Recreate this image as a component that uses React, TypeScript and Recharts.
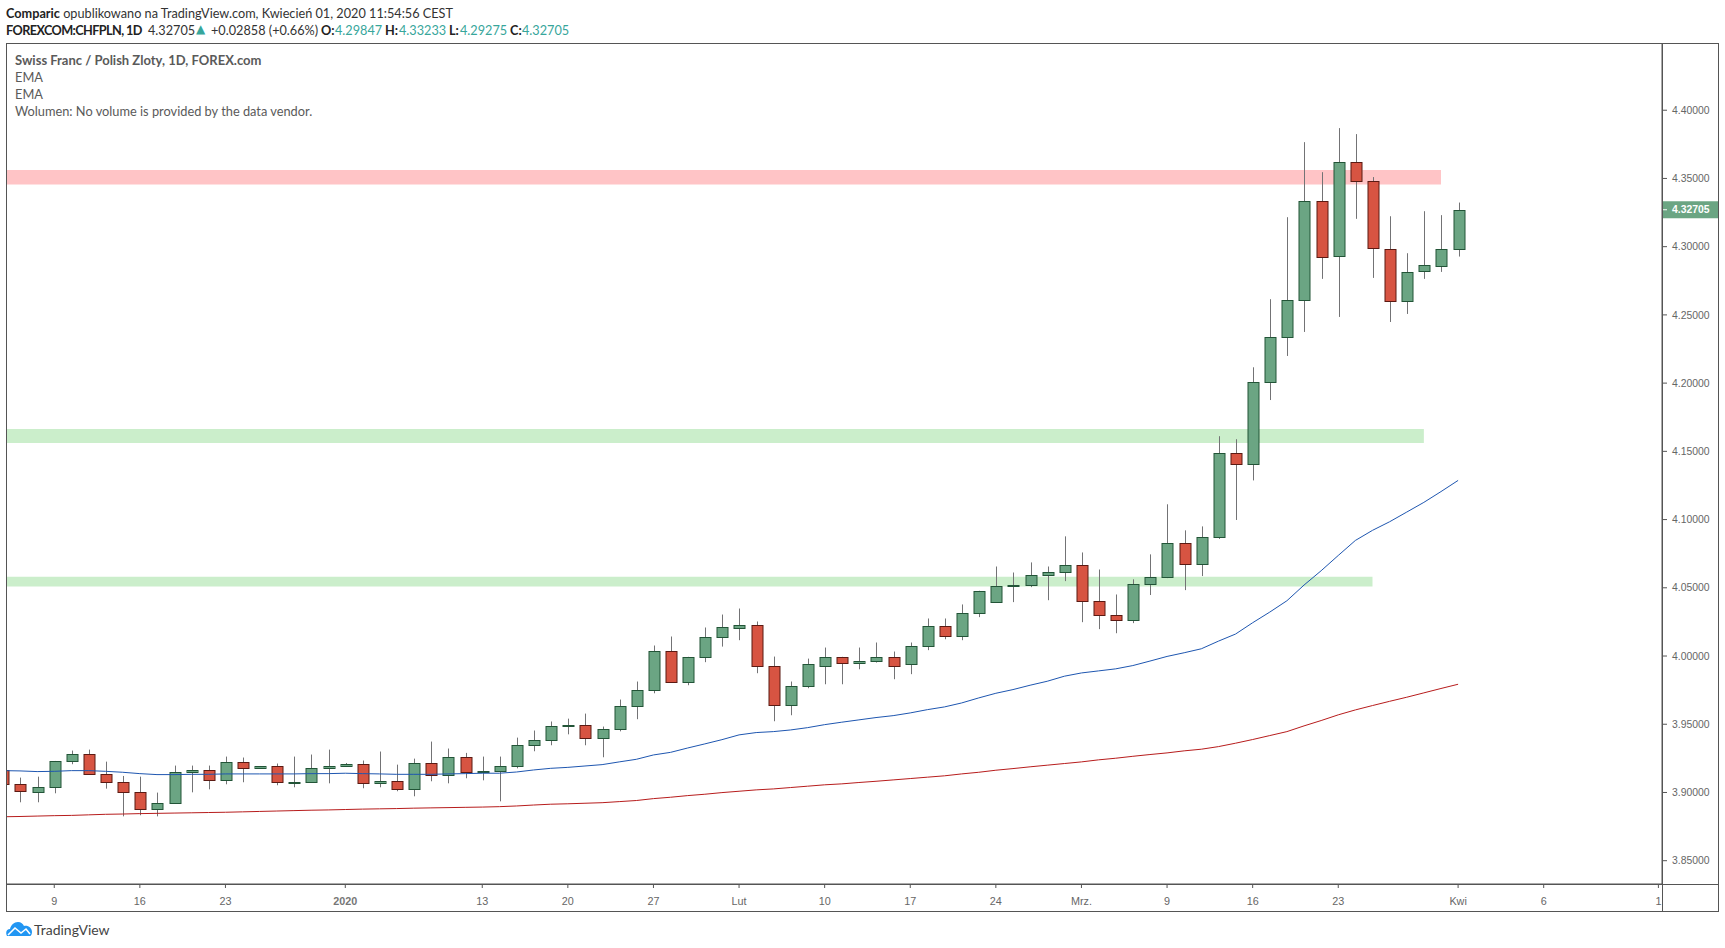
import { Bar, ComposedChart, Line, ReferenceArea, XAxis, YAxis } from 'recharts';

const dates = [
  '2019-12-04', '2019-12-05', '2019-12-06',
  '2019-12-09', '2019-12-10', '2019-12-11', '2019-12-12', '2019-12-13',
  '2019-12-16', '2019-12-17', '2019-12-18', '2019-12-19', '2019-12-20',
  '2019-12-23', '2019-12-24', '2019-12-25', '2019-12-26', '2019-12-27',
  '2019-12-30', '2019-12-31', '2020-01-01', '2020-01-02', '2020-01-03',
  '2020-01-06', '2020-01-07', '2020-01-08', '2020-01-09', '2020-01-10',
  '2020-01-13', '2020-01-14', '2020-01-15', '2020-01-16', '2020-01-17',
  '2020-01-20', '2020-01-21', '2020-01-22', '2020-01-23', '2020-01-24',
  '2020-01-27', '2020-01-28', '2020-01-29', '2020-01-30', '2020-01-31',
  '2020-02-03', '2020-02-04', '2020-02-05', '2020-02-06', '2020-02-07',
  '2020-02-10', '2020-02-11', '2020-02-12', '2020-02-13', '2020-02-14',
  '2020-02-17', '2020-02-18', '2020-02-19', '2020-02-20', '2020-02-21',
  '2020-02-24', '2020-02-25', '2020-02-26', '2020-02-27', '2020-02-28',
  '2020-03-02', '2020-03-03', '2020-03-04', '2020-03-05', '2020-03-06',
  '2020-03-09', '2020-03-10', '2020-03-11', '2020-03-12', '2020-03-13',
  '2020-03-16', '2020-03-17', '2020-03-18', '2020-03-19', '2020-03-20',
  '2020-03-23', '2020-03-24', '2020-03-25', '2020-03-26', '2020-03-27',
  '2020-03-30', '2020-03-31', '2020-04-01',
];

const opens = [
  3.9165, 3.9062, 3.9009,
  3.9038, 3.9229, 3.9283, 3.9136, 3.9077,
  3.9004, 3.8879, 3.8923, 3.9148, 3.9165,
  3.9092, 3.9224, 3.918, 3.9194, 3.9077,
  3.9077, 3.918, 3.9194, 3.9209, 3.907,
  3.9084, 3.9026, 3.9216, 3.9128, 3.926,
  3.9148, 3.9158, 3.9194, 3.9349, 3.9385,
  3.9488, 3.9495, 3.94, 3.9466, 3.9634,
  3.9752, 4.0038, 3.981, 3.9994, 4.014,
  4.0204, 4.0228, 3.9928, 3.9642, 3.9781,
  3.9928, 3.9994, 3.995, 3.9964, 3.9994,
  3.9942, 4.0074, 4.0221, 4.0148, 4.0316,
  4.0397, 4.0512, 4.0522, 4.0595, 4.0617,
  4.0669, 4.0404, 4.0302, 4.0265, 4.053,
  4.0581, 4.0831, 4.0677, 4.0875, 4.1491,
  4.141, 4.2011, 4.2341, 4.2612, 4.3338,
  4.2928, 4.3617, 4.3478, 4.2986, 4.2605,
  4.2818, 4.2862, 4.29847,
];

const highs = [
  3.9185, 3.9109, 3.9116,
  3.9231, 3.9307, 3.9314, 3.9226, 3.9121,
  3.9116, 3.8999, 3.9197, 3.9197, 3.9197,
  3.9263, 3.9256, 3.9194, 3.9212, 3.9263,
  3.9278, 3.9314, 3.9216, 3.9234, 3.93,
  3.9204, 3.9248, 3.9373, 3.9322, 3.929,
  3.9263, 3.9263, 3.9402, 3.9454, 3.952,
  3.9541, 3.9578, 3.9483, 3.9681, 3.9813,
  4.0077, 4.0143, 3.9994, 4.0209, 4.0304,
  4.0348, 4.0253, 3.9996, 3.9813, 3.9981,
  4.0062, 3.9994, 4.0062, 4.0099, 4.0033,
  4.0099, 4.0275, 4.0275, 4.0378, 4.0478,
  4.0656, 4.0612, 4.0686, 4.0656, 4.0877,
  4.0759, 4.0634, 4.0451, 4.0562, 4.0745,
  4.1112, 4.0921, 4.095, 4.1611, 4.1589,
  4.2116, 4.2615, 4.3216, 4.3766, 4.3546,
  4.3869, 4.3825, 4.351, 4.3223, 4.2952,
  4.326, 4.3231, 4.33233,
];

const lows = [
  3.904, 3.8928, 3.8928,
  3.8994, 3.9207, 3.9128, 3.9028, 3.8825,
  3.8833, 3.8825, 3.8923, 3.9001, 3.9023,
  3.906, 3.9075, 3.918, 3.9053, 3.9038,
  3.9077, 3.9067, 3.9194, 3.9031, 3.9038,
  3.9009, 3.8972, 3.9082, 3.9067, 3.9104,
  3.9089, 3.8935, 3.9177, 3.9302, 3.9346,
  3.9426, 3.9346, 3.9258, 3.9448, 3.9537,
  3.9727, 3.981, 3.9786, 3.9955, 4.0069,
  4.0116, 3.9874, 3.9522, 3.9566, 3.9764,
  3.9793, 3.9793, 3.9903, 3.9952, 3.983,
  3.9867, 4.0043, 4.0123, 4.0116, 4.0285,
  4.0397, 4.0395, 4.0505, 4.0409, 4.0549,
  4.0248, 4.0197, 4.0167, 4.0241, 4.0447,
  4.0571, 4.0483, 4.0586, 4.0858, 4.0997,
  4.1287, 4.1876, 4.2199, 4.2375, 4.2764,
  4.2485, 4.3204, 4.2771, 4.2448, 4.2507,
  4.2764, 4.2815, 4.29275,
];

const closes = [
  3.9062, 3.9009, 3.9043,
  3.9231, 3.9283, 3.9136, 3.9075, 3.9004,
  3.8879, 3.8923, 3.915, 3.9165, 3.9092,
  3.9224, 3.918, 3.9194, 3.9077, 3.9079,
  3.918, 3.9194, 3.9209, 3.907, 3.9084,
  3.9026, 3.9216, 3.9128, 3.926, 3.9148,
  3.9155, 3.9194, 3.9349, 3.9385, 3.9488,
  3.9495, 3.94, 3.9466, 3.9634, 3.9752,
  4.0038, 3.981, 3.9994, 4.014, 4.0214,
  4.0228, 3.9928, 3.9642, 3.9781, 3.9942,
  3.9994, 3.995, 3.9964, 3.9994, 3.9928,
  4.0074, 4.0221, 4.0148, 4.0316, 4.0478,
  4.0515, 4.0522, 4.0595, 4.0617, 4.0669,
  4.0404, 4.0302, 4.0265, 4.053, 4.0581,
  4.0831, 4.0677, 4.0875, 4.1491, 4.141,
  4.2011, 4.2341, 4.2612, 4.3338, 4.2928,
  4.3617, 4.3478, 4.2986, 4.2605, 4.2818,
  4.2862, 4.2986, 4.32705,
];

const emaBlue = [
  3.916, 3.9158, 3.9153,
  3.9155, 3.916, 3.916, 3.9155, 3.9148,
  3.9138, 3.9131, 3.9131, 3.9133, 3.9133,
  3.9136, 3.9136, 3.9136, 3.9136, 3.9136,
  3.9138, 3.9138, 3.9141, 3.9138, 3.9136,
  3.9133, 3.9133, 3.9133, 3.9136, 3.9138,
  3.9141, 3.9141, 3.915, 3.9165, 3.9177,
  3.9184, 3.9194, 3.9204, 3.9224, 3.9243,
  3.9275, 3.9294, 3.9326, 3.9356, 3.9387,
  3.9422, 3.9439, 3.9446, 3.9458, 3.9475,
  3.9497, 3.9515, 3.9532, 3.9549, 3.9563,
  3.9583, 3.9607, 3.9627, 3.9656, 3.9693,
  3.9727, 3.9754, 3.9786, 3.9815, 3.9852,
  3.9876, 3.9891, 3.9906, 3.993, 3.9963,
  3.9997, 4.0024, 4.0053, 4.0109, 4.0161,
  4.0244, 4.0322, 4.0405, 4.052, 4.0625,
  4.0737, 4.0847, 4.0921, 4.0984, 4.1055,
  4.1126, 4.1205, 4.1287,
];

const emaRed = [
  3.8822, 3.8824, 3.8827,
  3.883, 3.8832, 3.8836, 3.884, 3.8842,
  3.8845, 3.8847, 3.8849, 3.8851, 3.8853,
  3.8855, 3.8858, 3.8861, 3.8864, 3.8867,
  3.887, 3.8872, 3.8875, 3.8878, 3.888,
  3.8882, 3.8885, 3.8887, 3.8889, 3.8891,
  3.8893, 3.8896, 3.8901, 3.8908, 3.8914,
  3.8917, 3.8921, 3.8925, 3.8933, 3.8941,
  3.8955, 3.8965, 3.8977, 3.8987, 3.8999,
  3.9009, 3.9019, 3.9026, 3.9036, 3.9046,
  3.9056, 3.9063, 3.9073, 3.9082, 3.9092,
  3.9102, 3.9112, 3.9122, 3.9136, 3.9148,
  3.9163, 3.9175, 3.9188, 3.92, 3.9212,
  3.9224, 3.9239, 3.9251, 3.9265, 3.9278,
  3.929, 3.9305, 3.9317, 3.9336, 3.9361,
  3.9388, 3.9417, 3.9446, 3.9488, 3.9527,
  3.9569, 3.9605, 3.9637, 3.9668, 3.9698,
  3.973, 3.9762, 3.9793,
];

const priceTicks = [3.85, 3.9, 3.95, 4.0, 4.05, 4.1, 4.15, 4.2, 4.25, 4.3, 4.35, 4.4];
const lastPrice = 4.32705;

const timeTicks = [3, 8, 13, 20, 28, 33, 38, 43, 48, 53, 58, 63, 68, 73, 78, 85, 90, 96.7];
const timeLabels = ['9', '16', '23', '2020', '13', '20', '27', 'Lut', '10', '17', '24', 'Mrz.', '9', '16', '23', 'Kwi', '6', '1'];

const zones = [
  { from: 4.3456, to: 4.3561, end: 84, color: '#ffc4c6' },
  { from: 4.1561, to: 4.1664, end: 83, color: '#cbeecb' },
  { from: 4.051, to: 4.0581, end: 80, color: '#cbeecb' },
];

const data = dates.map((date, i) => ({
  i,
  date,
  open: opens[i],
  high: highs[i],
  low: lows[i],
  close: closes[i],
  range: [lows[i], highs[i]],
  emaBlue: emaBlue[i],
  emaRed: emaRed[i],
}));

const TEAL = '#37a69b';
const AXIS = '#555555';

function Candle(props: any) {
  const { x, y, width, height, payload } = props;
  if (!payload || !height) return null;
  const cx = Math.round(x + width / 2) + 0.5;
  const perUnit = height / (payload.high - payload.low);
  const up = payload.close >= payload.open;
  const top = y + (payload.high - Math.max(payload.open, payload.close)) * perUnit;
  const bottom = y + (payload.high - Math.min(payload.open, payload.close)) * perUnit;
  return (
    <g>
      <line x1={cx} x2={cx} y1={y} y2={y + height} stroke="#737375" strokeWidth={1} />
      <rect
        x={cx - 5.5}
        y={Math.round(top) + 0.5}
        width={11}
        height={Math.max(Math.round(bottom - top), 1)}
        fill={up ? '#6ba583' : '#d75442'}
        stroke={up ? '#225437' : '#5b1a13'}
        strokeWidth={1}
      />
    </g>
  );
}

function PriceTick(props: any) {
  const { x, y, payload } = props;
  const isLast = payload.value === lastPrice;
  const font = { fontFamily: 'Liberation Sans, Arial, sans-serif', fontSize: 10.4 };
  if (isLast) {
    return (
      <g>
        <rect x={x - 10} y={y - 8.5} width={56} height={17} fill="#6ba583" />
        <line x1={x - 10} x2={x - 5} y1={y} y2={y} stroke="#ffffff" />
        <text x={x} y={y + 3.7} fill="#ffffff" fontWeight="bold" {...font}>
          {payload.value.toFixed(5)}
        </text>
      </g>
    );
  }
  return (
    <text x={x} y={y + 3.7} fill="#666666" {...font}>
      {payload.value.toFixed(5)}
    </text>
  );
}

function TimeTick(props: any) {
  const { x, y, payload } = props;
  const label = timeLabels[timeTicks.indexOf(payload.value)];
  const isYear = label === '2020';
  return (
    <text
      x={x}
      y={y + 12.5}
      textAnchor="middle"
      fill={isYear ? '#777777' : '#666666'}
      fontFamily="Liberation Sans, Arial, sans-serif"
      fontSize={10.8}
      fontWeight={isYear ? 'bold' : 'normal'}
    >
      {label}
    </text>
  );
}

function Header() {
  const piece = (left: number, top: number) =>
    ({ position: 'absolute', left, top, whiteSpace: 'nowrap', fontSize: 12.7, lineHeight: '16px', color: '#333' }) as const;
  const bold = { fontWeight: 700, color: '#222' };
  const teal = { color: TEAL };
  return (
    <>
      <div style={piece(6, 5)}>
        <span style={bold}>Comparic</span> opublikowano na TradingView.com, Kwiecień 01, 2020 11:54:56 CEST
      </div>
      <div style={{ ...piece(6, 22), ...bold, letterSpacing: -0.6 }}>FOREXCOM:CHFPLN, 1D</div>
      <div style={piece(148, 22)}>4.32705</div>
      <div style={{ ...piece(196, 21), ...teal, fontFamily: 'DejaVu Sans', fontSize: 12 }}>▲</div>
      <div style={piece(211, 22)}>+0.02858 (+0.66%)</div>
      <div style={{ ...piece(321, 22), ...bold }}>O:</div>
      <div style={{ ...piece(335, 22), ...teal }}>4.29847</div>
      <div style={{ ...piece(385, 22), ...bold }}>H:</div>
      <div style={{ ...piece(399, 22), ...teal }}>4.33233</div>
      <div style={{ ...piece(449, 22), ...bold }}>L:</div>
      <div style={{ ...piece(460, 22), ...teal }}>4.29275</div>
      <div style={{ ...piece(510, 22), ...bold }}>C:</div>
      <div style={{ ...piece(522, 22), ...teal }}>4.32705</div>
    </>
  );
}

function Legend() {
  const row = { position: 'absolute', left: 15, whiteSpace: 'nowrap', fontSize: 12.8, lineHeight: '16px', color: '#5a5a5a' } as const;
  return (
    <>
      <div style={{ ...row, top: 52, fontWeight: 700, fontSize: 13 }}>Swiss Franc / Polish Zloty, 1D, FOREX.com</div>
      <div style={{ ...row, top: 69 }}>EMA</div>
      <div style={{ ...row, top: 86 }}>EMA</div>
      <div style={{ ...row, top: 103 }}>Wolumen: No volume is provided by the data vendor.</div>
    </>
  );
}

function Logo() {
  return (
    <>
      <svg width={27} height={16} viewBox="0 0 27 16" style={{ position: 'absolute', left: 6, top: 921 }}>
        <path
          d="M1 15 C-1 11 1 8 4 8 C5 4 8 1 12 1 C15 1 17 3 18 5 C22 4 26 7 26 11 C26 13 25 15 24 15 Z"
          fill="#2196f3"
        />
        <path d="M2 14 L9 7 L15 12 L20 8 L24 13" fill="none" stroke="#ffffff" strokeWidth={1.6} />
      </svg>
      <div style={{ position: 'absolute', left: 34, top: 921, fontSize: 14, lineHeight: '17px', color: '#444' }}>TradingView</div>
    </>
  );
}

export default function App() {
  return (
    <div
      style={{
        position: 'absolute',
        left: 0,
        top: 0,
        width: 1725,
        height: 948,
        background: '#ffffff',
        overflow: 'hidden',
        fontFamily: 'Lato, sans-serif',
      }}
    >
      <ComposedChart
        width={1725}
        height={948}
        data={data}
        margin={{ top: 44, right: 7, bottom: 37, left: 7 }}
        style={{ position: 'absolute', left: 0, top: 0 }}
      >
        <XAxis
          dataKey="i"
          type="number"
          domain={[0.24, 96.91]}
          allowDataOverflow
          ticks={timeTicks}
          interval={0}
          height={27}
          stroke={AXIS}
          tickSize={4}
          tickMargin={4}
          tick={<TimeTick />}
        />
        <YAxis
          orientation="right"
          type="number"
          domain={[3.83292, 4.44853]}
          allowDataOverflow
          ticks={[...priceTicks, lastPrice]}
          interval={0}
          width={56}
          stroke={AXIS}
          tickSize={5}
          tickMargin={5}
          tick={<PriceTick />}
        />
        {zones.map((z) => (
          <ReferenceArea
            key={z.from}
            x1={0.24}
            x2={z.end}
            y1={z.from}
            y2={z.to}
            fill={z.color}
            fillOpacity={1}
            stroke="none"
          />
        ))}
        <Line dataKey="emaRed" stroke="#b71c1c" strokeWidth={1} dot={false} activeDot={false} isAnimationActive={false} />
        <Line dataKey="emaBlue" stroke="#1e56b0" strokeWidth={1} dot={false} activeDot={false} isAnimationActive={false} />
        <Bar dataKey="range" barSize={12} shape={<Candle />} isAnimationActive={false} />
      </ComposedChart>
      <Header />
      <Legend />
      <div style={{ position: 'absolute', left: 6, top: 43, width: 1711, height: 867, border: `1px solid ${AXIS}` }} />
      <div style={{ position: 'absolute', left: 6, top: 884, width: 1712, height: 1, background: AXIS }} />
      <div style={{ position: 'absolute', left: 1662, top: 44, width: 1, height: 867, background: AXIS }} />
      <Logo />
    </div>
  );
}
